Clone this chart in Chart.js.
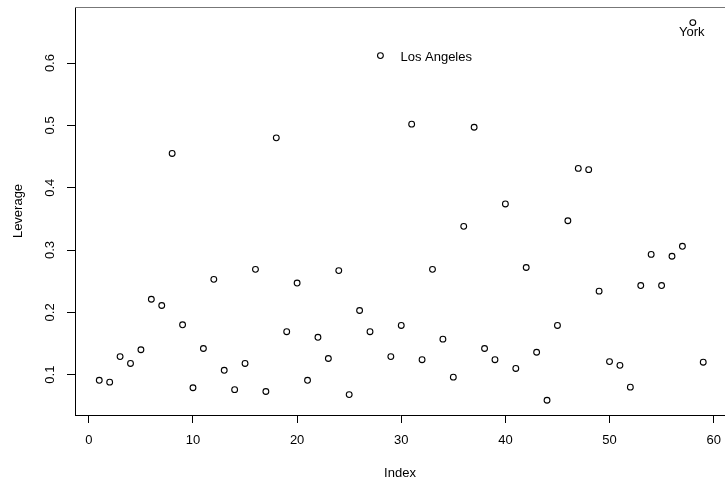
<!DOCTYPE html>
<html>
<head>
<meta charset="utf-8">
<script src="https://cdn.jsdelivr.net/npm/chart.js@4/dist/chart.umd.min.js"></script>
<style>
  html, body { margin: 0; padding: 0; background: #fff; overflow: hidden; }
  #wrap { width: 725px; height: 486px; }
</style>
</head>
<body>
<div id="wrap"><canvas id="chart"></canvas></div>
<script>
// leverage of each observation, in index order 1..59
const leverage = [
  0.091, 0.088, 0.129, 0.118, 0.140, 0.221, 0.211, 0.455, 0.180, 0.079,
  0.142, 0.253, 0.107, 0.076, 0.118, 0.269, 0.073, 0.480, 0.169, 0.247,
  0.091, 0.160, 0.126, 0.267, 0.068, 0.203, 0.169, 0.612, 0.129, 0.179,
  0.502, 0.124, 0.269, 0.157, 0.096, 0.338, 0.497, 0.142, 0.124, 0.374,
  0.110, 0.272, 0.136, 0.059, 0.179, 0.347, 0.431, 0.429, 0.234, 0.121,
  0.115, 0.080, 0.243, 0.293, 0.243, 0.290, 0.306, 0.665, 0.120
];
const xTicks = [0, 10, 20, 30, 40, 50, 60];
const yTicks = [0.1, 0.2, 0.3, 0.4, 0.5, 0.6];
// labelled points
const labelIndex = [28, 58];
const labelText = ["Los Angeles", "York"];

const points = leverage.map((v, i) => ({ x: i + 1, y: v }));
const FONT = "'Liberation Sans', Arial, Helvetica, sans-serif";

const extras = {
  id: "extras",
  afterDraw(chart) {
    const ctx = chart.ctx;
    const area = chart.chartArea;
    const xs = chart.scales.x, ys = chart.scales.y;
    ctx.save();
    // top edge of the box
    ctx.strokeStyle = "#777";
    ctx.lineWidth = 1;
    ctx.beginPath();
    ctx.moveTo(area.left, area.top + 0.5);
    ctx.lineTo(area.right, area.top + 0.5);
    ctx.stroke();

    // rotated y tick labels
    ctx.fillStyle = "#000";
    ctx.font = "13px " + FONT;
    ctx.textAlign = "center";
    ctx.textBaseline = "middle";
    yTicks.forEach(v => {
      ctx.save();
      ctx.translate(50, ys.getPixelForValue(v));
      ctx.rotate(-Math.PI / 2);
      ctx.fillText(v.toFixed(1), 0, 0);
      ctx.restore();
    });

    // point labels
    labelIndex.forEach((idx, k) => {
      const px = xs.getPixelForValue(idx);
      const py = ys.getPixelForValue(leverage[idx - 1]);
      if (k === 0) {
        ctx.textAlign = "left";
        ctx.fillText(labelText[k], px + 20, py + 1.5);
      } else {
        ctx.textAlign = "center";
        ctx.fillText(labelText[k], px - 1, py + 10);
      }
    });
    ctx.restore();
  }
};

new Chart(document.getElementById("chart"), {
  type: "scatter",
  data: {
    datasets: [{
      data: points,
      pointStyle: "circle",
      pointRadius: 2.9,
      pointBorderWidth: 1.1,
      pointBorderColor: "#000",
      pointBackgroundColor: "rgba(0,0,0,0)"
    }]
  },
  options: {
    responsive: true,
    maintainAspectRatio: false,
    animation: false,
    layout: { autoPadding: false, padding: { left: 0, top: 7, right: 0, bottom: 0 } },
    plugins: {
      legend: { display: false },
      tooltip: { enabled: false }
    },
    scales: {
      x: {
        type: "linear",
        min: -1.33,
        max: 61.09,
        afterBuildTicks: s => { s.ticks = xTicks.map(v => ({ value: v })); },
        afterFit: s => { s.height = 71; s.paddingLeft = 0; s.paddingRight = 0; },
        grid: { drawOnChartArea: false, drawTicks: true, tickLength: 8, color: "#000" },
        border: { display: true, color: "#000", width: 1 },
        ticks: { color: "#000", font: { family: FONT, size: 13 }, padding: 10, maxRotation: 0 },
        title: { display: true, text: "Index", color: "#000", font: { family: FONT, size: 13 }, padding: { top: 0, bottom: 5 } }
      },
      y: {
        type: "linear",
        min: 0.0353,
        max: 0.690,
        afterBuildTicks: s => { s.ticks = yTicks.map(v => ({ value: v })); },
        afterFit: s => { s.width = 75; s.paddingTop = 0; s.paddingBottom = 0; },
        grid: { drawOnChartArea: false, drawTicks: true, tickLength: 8, color: "#000" },
        border: { display: true, color: "#000", width: 1 },
        ticks: { display: false },
        title: { display: true, text: "Leverage", color: "#000", font: { family: FONT, size: 13 }, padding: { top: 10.5, bottom: 0 } }
      }
    }
  },
  plugins: [extras]
});
</script>
</body>
</html>
